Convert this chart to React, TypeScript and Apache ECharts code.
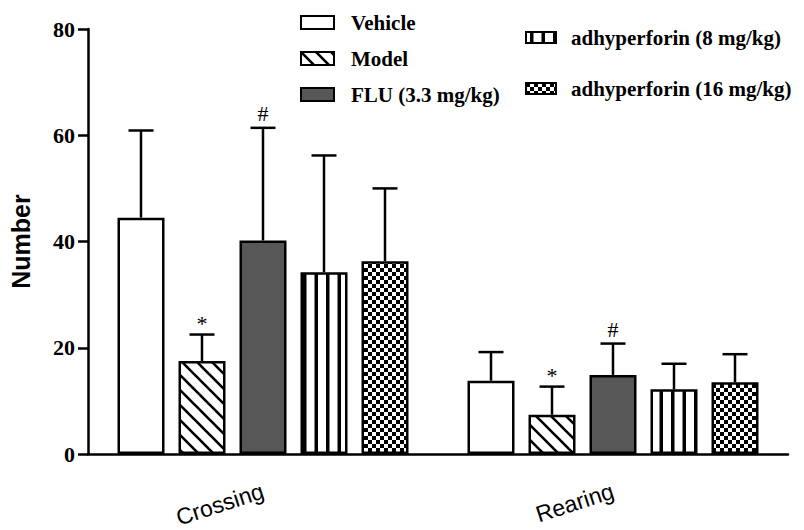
import React, { useEffect, useRef } from "react";
import * as echarts from "echarts";

// ---------- data ----------
const categories = ["Crossing", "Rearing"];
const seriesNames = [
  "Vehicle",
  "Model",
  "FLU (3.3 mg/kg)",
  "adhyperforin (8 mg/kg)",
  "adhyperforin (16 mg/kg)",
];
const vehicleMean = [44.5, 13.8];
const vehicleSd = [16.4, 5.4];
const modelMean = [17.5, 7.4];
const modelSd = [5.0, 5.3];
const fluMean = [40.2, 14.9];
const fluSd = [21.2, 5.9];
const adhyp8Mean = [34.2, 12.2];
const adhyp8Sd = [22.0, 4.8];
const adhyp16Mean = [36.3, 13.5];
const adhyp16Sd = [13.7, 5.3];
const vehicleMarks = ["", ""];
const modelMarks = ["*", "*"];
const fluMarks = ["#", "#"];
const adhyp8Marks = ["", ""];
const adhyp16Marks = ["", ""];
const yMin = 0;
const yMax = 80;
const yInterval = 20;

const means = [vehicleMean, modelMean, fluMean, adhyp8Mean, adhyp16Mean];
const sds = [vehicleSd, modelSd, fluSd, adhyp8Sd, adhyp16Sd];
const marks = [vehicleMarks, modelMarks, fluMarks, adhyp8Marks, adhyp16Marks];

// ---------- style ----------
const BAR_W = 47;
const BAR_GAP = 14;
const CAP_W = 25;
const LINE_W = 2.5;

function tile(w: number, h: number, draw: (ctx: CanvasRenderingContext2D) => void) {
  const c = document.createElement("canvas");
  c.width = w;
  c.height = h;
  const ctx = c.getContext("2d") as CanvasRenderingContext2D;
  ctx.fillStyle = "#ffffff";
  ctx.fillRect(0, 0, w, h);
  draw(ctx);
  return { image: c, repeat: "repeat", imageWidth: w, imageHeight: h } as any;
}

function makeFills() {
  const diag = tile(15, 15, (ctx) => {
    ctx.strokeStyle = "#000";
    ctx.lineWidth = 2.6;
    for (let k = -1; k <= 1; k++) {
      ctx.beginPath();
      ctx.moveTo(-2, k * 15 - 2);
      ctx.lineTo(17, 17 + k * 15);
      ctx.stroke();
    }
  });
  const vert = tile(23, 4, (ctx) => {
    ctx.fillStyle = "#000";
    ctx.fillRect(4, 0, 3.5, 4);
    ctx.fillRect(15.5, 0, 3.5, 4);
  });
  const check = tile(8, 8, (ctx) => {
    ctx.fillStyle = "#000";
    ctx.fillRect(0, 0, 4, 4);
    ctx.fillRect(4, 4, 4, 4);
  });
  return ["#ffffff", diag, "#575757", vert, check];
}

export default function App() {
  const ref = useRef<HTMLDivElement>(null);

  useEffect(() => {
    if (!ref.current) return;
    const chart = echarts.init(ref.current, undefined, { renderer: "svg" });
    const fills = makeFills();

    const barSeries = seriesNames.map((name, i) => ({
      type: "bar",
      name,
      data: means[i],
      barWidth: BAR_W,
      barGap: `${(BAR_GAP / BAR_W) * 100}%`,
      itemStyle: { color: fills[i], borderColor: "#000", borderWidth: LINE_W },
      z: 2,
    }));

    const errSeries = seriesNames.map((_, i) => ({
      type: "custom",
      data: means[i].map((m, ci) => [ci, m, sds[i][ci]]),
      encode: { x: 0, y: 1 },
      z: 3,
      renderItem: (params: any, api: any) => {
        const ci = api.value(0);
        const m = api.value(1);
        const sd = api.value(2);
        const base = api.coord([ci, m]);
        const top = api.coord([ci, m + sd]);
        const x = base[0] + (i - 2) * (BAR_W + BAR_GAP);
        const children: any[] = [
          {
            type: "line",
            shape: { x1: x, y1: base[1], x2: x, y2: top[1] },
            style: { stroke: "#000", lineWidth: LINE_W },
          },
          {
            type: "line",
            shape: { x1: x - CAP_W / 2, y1: top[1], x2: x + CAP_W / 2, y2: top[1] },
            style: { stroke: "#000", lineWidth: LINE_W },
          },
        ];
        const mk = marks[i][params.dataIndex];
        if (mk) {
          children.push({
            type: "text",
            x,
            y: top[1] - (mk === "*" ? 0 : 3),
            style: {
              text: mk,
              align: "center",
              verticalAlign: "bottom",
              fontSize: 22,
              fontFamily: "Liberation Serif",
              fill: "#000",
            },
          });
        }
        return { type: "group", children };
      },
    }));

    const legendText = {
      fontFamily: "Liberation Serif",
      fontWeight: "bold",
      fontSize: 21,
      color: "#000",
    };

    chart.setOption({
      animation: false,
      backgroundColor: "#ffffff",
      grid: { left: 86, right: 16, top: 29, bottom: 67, containLabel: false },
      legend: [
        {
          data: seriesNames.slice(0, 3),
          orient: "vertical",
          left: 295,
          top: 7,
          icon: "rect",
          itemWidth: 33,
          itemHeight: 13,
          itemGap: 15,
          selectedMode: false,
          textStyle: { ...legendText, padding: [0, 0, 0, 12] },
        },
        {
          data: seriesNames.slice(3),
          orient: "vertical",
          left: 520,
          top: 22,
          icon: "rect",
          itemWidth: 30,
          itemHeight: 11,
          itemGap: 30,
          selectedMode: false,
          textStyle: { ...legendText, padding: [0, 0, 0, 10] },
        },
      ],
      xAxis: {
        type: "category",
        data: categories,
        axisLine: { lineStyle: { color: "#000", width: LINE_W } },
        axisTick: { alignWithLabel: true, length: 9, lineStyle: { color: "#000", width: LINE_W } },
        axisLabel: {
          rotate: 18,
          margin: 36,
          fontSize: 23,
          fontFamily: "Liberation Sans",
          color: "#000",
        },
        splitLine: { show: false },
      },
      yAxis: {
        type: "value",
        min: yMin,
        max: yMax,
        interval: yInterval,
        name: "Number",
        nameLocation: "middle",
        nameGap: 55,
        nameRotate: 90,
        nameTextStyle: {
          fontSize: 25,
          fontWeight: "bold",
          fontFamily: "Liberation Sans",
          color: "#000",
        },
        axisLine: { show: true, lineStyle: { color: "#000", width: LINE_W } },
        axisTick: { show: true, length: 10, lineStyle: { color: "#000", width: LINE_W } },
        axisLabel: {
          margin: 13,
          fontSize: 22,
          fontWeight: "bold",
          fontFamily: "Liberation Serif",
          color: "#000",
        },
        splitLine: { show: false },
      },
      series: [...barSeries, ...errSeries],
    });

    return () => chart.dispose();
  }, []);

  return (
    <div
      ref={ref}
      style={{ position: "fixed", left: 0, top: 0, width: 804, height: 530, background: "#fff" }}
    />
  );
}
